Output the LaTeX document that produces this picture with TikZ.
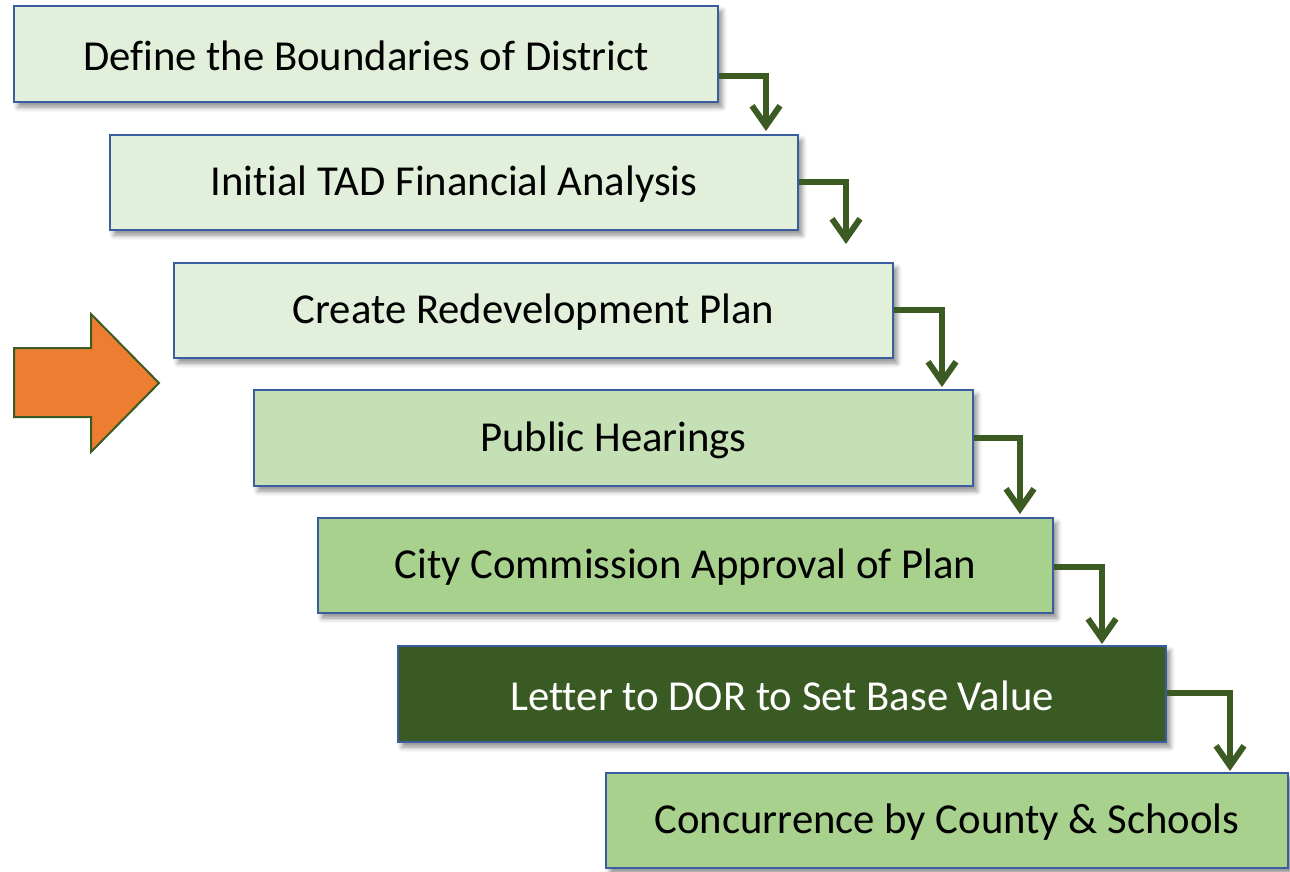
\documentclass[tikz,border=0pt]{standalone}
\usepackage{fontspec}
\setmainfont{Carlito}[Ligatures=NoCommon]
\usetikzlibrary{arrows.meta,shadows.blur}

\definecolor{edgeblue}{HTML}{3A5DA0}
\definecolor{paleA}{HTML}{E2EFDA}
\definecolor{paleB}{HTML}{C5E0B4}
\definecolor{paleC}{HTML}{A9D18E}
\definecolor{deepgreen}{HTML}{3A5A23}
\definecolor{conngreen}{HTML}{3B5B22}
\definecolor{flagorange}{HTML}{ED7D31}

% lower a label slightly without changing its reported size
\newcommand{\lowered}[1]{\raisebox{-2pt}[\height][\depth]{#1}}

\tikzset{
  stepbox/.style={draw=edgeblue, line width=2pt, inner sep=0pt,
    font=\fontsize{42.7}{50}\selectfont,
    blur shadow={shadow xshift=4pt, shadow yshift=-5pt, shadow blur radius=5pt, shadow opacity=45}},
  conn/.style={draw=conngreen, line width=6pt,
    -{Straight Barb[length=20pt,width=28pt]}},
  pointer/.style={fill=flagorange, draw=conngreen, line width=2pt, line join=miter}
}

\begin{document}
\begin{tikzpicture}[x=1pt,y=-1pt]
  \useasboundingbox (0,0) rectangle (1290,871);

  % process steps
  \node[stepbox, fill=paleA, minimum width=704pt, minimum height=96pt] (b1) at (366,54) {\lowered{Define the Boundaries of District}};
  \node[stepbox, fill=paleA, minimum width=688pt, minimum height=95pt] (b2) at (454,182.5) {\lowered{Initial TAD Financial Analysis}};
  \node[stepbox, fill=paleA, minimum width=719pt, minimum height=95pt] (b3) at (533.5,310.5) {\lowered{Create Redevelopment Plan}};
  \node[stepbox, fill=paleB, minimum width=719pt, minimum height=96pt] (b4) at (613.5,438) {\lowered{Public Hearings}};
  \node[stepbox, fill=paleC, minimum width=735pt, minimum height=95pt] (b5) at (685.5,565.5) {\lowered{City Commission Approval of Plan}};
  \node[stepbox, fill=deepgreen, text=white, minimum width=768pt, minimum height=96pt] (b6) at (782,694) {\lowered{Letter to DOR to Set Base Value}};
  \node[stepbox, fill=paleC, minimum width=682pt, minimum height=95pt] (b7) at (947,820.5) {\lowered{Concurrence by County \& Schools}};

  % elbow connectors between consecutive steps
  \draw[conn, shorten >=3pt]  (b1.east |- 0,76)  -| (b2.north -| 766,0);
  \draw[conn, shorten >=18pt] (b2.east |- 0,182) -| (b3.north -| 846,0);
  \draw[conn, shorten >=2pt]  (b3.east |- 0,310) -| (b4.north -| 942,0);
  \draw[conn, shorten >=3pt]  (b4.east |- 0,438) -| (b5.north -| 1020,0);
  \draw[conn, shorten >=1pt]  (b5.east |- 0,567) -| (b6.north -| 1102,0);
  \draw[conn, shorten >=1pt]  (b6.east |- 0,693) -| (b7.north -| 1230,0);

  % current-step pointer
  \draw[pointer] (14,348) -- (91,348) -- (91,314) -- (159,383) -- (91,452) -- (91,417) -- (14,417) -- cycle;
\end{tikzpicture}
\end{document}
